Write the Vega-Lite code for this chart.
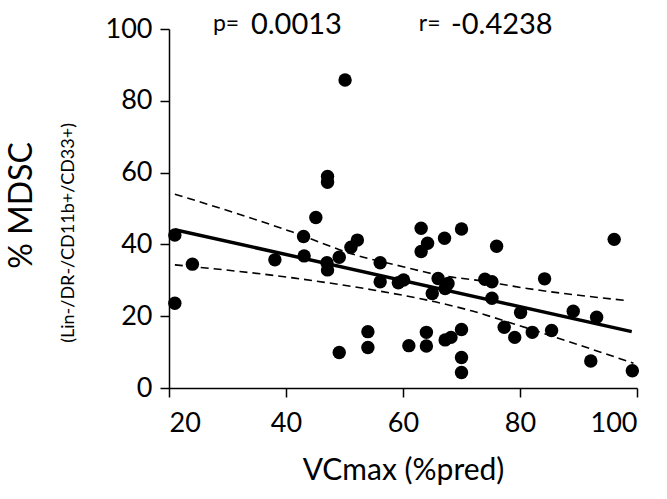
{
  "$schema": "https://vega.github.io/schema/vega-lite/v6.json",
  "width": 468,
  "height": 359,
  "autosize": {"type": "none"},
  "padding": {"left": 169, "top": 29, "right": 30, "bottom": 111},
  "background": "white",
  "config": {
    "view": {"stroke": null},
    "font": "Lato",
    "axis": {
      "grid": false,
      "domainColor": "black",
      "domainWidth": 1.5,
      "tickColor": "black",
      "tickWidth": 1.5,
      "tickSize": 9,
      "labelFont": "Lato",
      "labelFontSize": 27,
      "labelColor": "black",
      "labelPadding": 8,
      "titleFont": "Lato",
      "titleColor": "black",
      "titleFontWeight": "normal"
    }
  },
  "datasets": {
    "points": [
      {"vc": 21.0, "mdsc": 42.6}, {"vc": 21.0, "mdsc": 23.6}, {"vc": 24.0, "mdsc": 34.5},
      {"vc": 38.1, "mdsc": 35.7}, {"vc": 43.0, "mdsc": 42.2}, {"vc": 43.1, "mdsc": 36.8},
      {"vc": 45.1, "mdsc": 47.5}, {"vc": 47.1, "mdsc": 58.9}, {"vc": 47.1, "mdsc": 57.3},
      {"vc": 47.0, "mdsc": 34.9}, {"vc": 47.1, "mdsc": 32.9}, {"vc": 49.1, "mdsc": 36.4},
      {"vc": 49.1, "mdsc": 9.9}, {"vc": 50.1, "mdsc": 85.8}, {"vc": 51.1, "mdsc": 39.2},
      {"vc": 52.2, "mdsc": 41.2}, {"vc": 54.0, "mdsc": 15.7}, {"vc": 54.0, "mdsc": 11.3},
      {"vc": 56.1, "mdsc": 34.9}, {"vc": 56.1, "mdsc": 29.6}, {"vc": 59.2, "mdsc": 29.3},
      {"vc": 60.1, "mdsc": 30.1}, {"vc": 61.0, "mdsc": 11.8}, {"vc": 63.1, "mdsc": 44.5},
      {"vc": 64.2, "mdsc": 40.3}, {"vc": 63.1, "mdsc": 38.0}, {"vc": 67.1, "mdsc": 41.7},
      {"vc": 70.0, "mdsc": 44.3}, {"vc": 66.0, "mdsc": 30.5}, {"vc": 67.7, "mdsc": 29.1},
      {"vc": 67.2, "mdsc": 27.7}, {"vc": 65.0, "mdsc": 26.3}, {"vc": 64.0, "mdsc": 15.5},
      {"vc": 64.0, "mdsc": 11.7}, {"vc": 67.2, "mdsc": 13.4}, {"vc": 68.2, "mdsc": 14.1},
      {"vc": 70.0, "mdsc": 16.3}, {"vc": 70.0, "mdsc": 8.5}, {"vc": 70.0, "mdsc": 4.3},
      {"vc": 74.0, "mdsc": 30.3}, {"vc": 75.2, "mdsc": 29.6}, {"vc": 75.2, "mdsc": 25.0},
      {"vc": 76.0, "mdsc": 39.5}, {"vc": 77.3, "mdsc": 16.9}, {"vc": 79.1, "mdsc": 14.1},
      {"vc": 80.1, "mdsc": 21.0}, {"vc": 82.1, "mdsc": 15.5}, {"vc": 84.2, "mdsc": 30.4},
      {"vc": 85.4, "mdsc": 16.0}, {"vc": 89.1, "mdsc": 21.4}, {"vc": 92.1, "mdsc": 7.5},
      {"vc": 93.1, "mdsc": 19.7}, {"vc": 96.1, "mdsc": 41.4}, {"vc": 99.2, "mdsc": 4.8}
    ],
    "fit": [
      {"vc": 21.0, "mdsc": 44.1}, {"vc": 99.1, "mdsc": 15.7}
    ],
    "bands": [
      {"band": "upper", "vc": 21.0, "mdsc": 54.0},
      {"band": "upper", "vc": 41.0, "mdsc": 43.5},
      {"band": "upper", "vc": 52.0, "mdsc": 37.0},
      {"band": "upper", "vc": 60.0, "mdsc": 33.8},
      {"band": "upper", "vc": 66.0, "mdsc": 31.5},
      {"band": "upper", "vc": 74.0, "mdsc": 29.7},
      {"band": "upper", "vc": 79.0, "mdsc": 28.3},
      {"band": "upper", "vc": 98.5, "mdsc": 24.3},
      {"band": "lower", "vc": 21.0, "mdsc": 34.3},
      {"band": "lower", "vc": 41.5, "mdsc": 30.6},
      {"band": "lower", "vc": 54.9, "mdsc": 27.3},
      {"band": "lower", "vc": 65.5, "mdsc": 24.0},
      {"band": "lower", "vc": 71.7, "mdsc": 21.5},
      {"band": "lower", "vc": 78.3, "mdsc": 18.2},
      {"band": "lower", "vc": 89.7, "mdsc": 12.2},
      {"band": "lower", "vc": 99.4, "mdsc": 6.9}
    ],
    "notes": [
      {"vc": 27.5, "mdsc": 99.4, "label": "p=", "size": "small"},
      {"vc": 34.0, "mdsc": 98.6, "label": "0.0013", "size": "big"},
      {"vc": 62.7, "mdsc": 99.4, "label": "r=", "size": "small"},
      {"vc": 68.2, "mdsc": 98.6, "label": "-0.4238", "size": "big"}
    ],
    "sub": [
      {"vc": 2.9, "mdsc": 43.2, "label": "(Lin-/DR-/CD11b+/CD33+)"}
    ]
  },
  "encoding": {
    "x": {
      "field": "vc", "type": "quantitative",
      "scale": {"domain": [20, 100], "nice": false, "zero": false},
      "axis": {
        "values": [20, 40, 60, 80, 100],
        "labelPadding": 13,
        "title": "VCmax (%pred)",
        "titleFontSize": 30,
        "titleBaseline": "alphabetic",
        "titleY": 91
      }
    },
    "y": {
      "field": "mdsc", "type": "quantitative",
      "scale": {"domain": [0, 100], "nice": false},
      "axis": {
        "values": [0, 20, 40, 60, 80, 100],
        "title": "% MDSC",
        "titleFontSize": 32,
        "titleAngle": 270,
        "titleAlign": "center",
        "titleBaseline": "middle",
        "titleX": -148,
        "titleY": 176
      }
    }
  },
  "layer": [
    {
      "data": {"name": "bands"},
      "mark": {"type": "line", "color": "black", "strokeWidth": 1.6, "strokeDash": [8, 5], "interpolate": "monotone"},
      "encoding": {"detail": {"field": "band"}}
    },
    {
      "data": {"name": "fit"},
      "mark": {"type": "line", "color": "black", "strokeWidth": 3.5},
      "encoding": {}
    },
    {
      "data": {"name": "points"},
      "mark": {"type": "circle", "color": "black", "opacity": 1, "size": 180}
    },
    {
      "data": {"name": "notes"},
      "mark": {"type": "text", "align": "left", "baseline": "alphabetic", "color": "black", "font": "Lato"},
      "encoding": {
        "text": {"field": "label"},
        "size": {"field": "size", "type": "nominal", "scale": {"domain": ["small", "big"], "range": [23, 29]}, "legend": null}
      }
    },
    {
      "data": {"name": "sub"},
      "mark": {"type": "text", "align": "center", "baseline": "middle", "angle": 270, "color": "black", "font": "Lato", "fontSize": 18},
      "encoding": {"text": {"field": "label"}}
    }
  ]
}
